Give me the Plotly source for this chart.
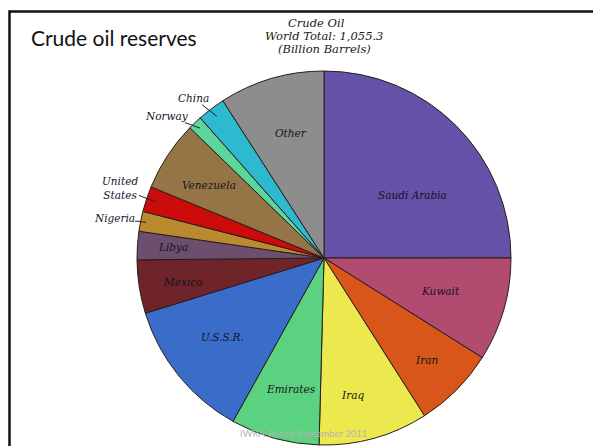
import math
import plotly.graph_objects as go

# ---- data (billion barrels) ----
countries = ["Saudi Arabia", "Kuwait", "Iran", "Iraq", "Emirates", "U.S.S.R.",
             "Mexico", "Libya", "Nigeria", "United States", "Venezuela",
             "Norway", "China", "Other"]
reserves = [263.8, 94.4, 74.2, 99.7, 80.9, 128.1, 48.7, 25.8, 18.2, 23.2,
            63.9, 12.9, 25.5, 96.0]
label_text = ["Saudi Arabia", "Kuwait", "Iran", "Iraq", "Emirates", "U.S.S.R.",
              "Mexico", "Libya", "Nigeria", "United<br>States", "Venezuela",
              "Norway", "China", "Other"]
title_text = "Crude oil reserves"
subtitle_lines = ["Crude Oil", "World Total: 1,055.3", "(Billion Barrels)"]
footer_text = "IWRA-Recife-September 2011"

# ---- styles ----
colors = ["#6352A8", "#B14B6F", "#D9561A", "#ECE94F", "#5AD27F", "#3A6CC9",
          "#6E2428", "#6C4F6F", "#B98A30", "#CC0B0B", "#957546", "#5DD69B",
          "#2DB9D0", "#8D8D8D"]
# per label: (radius fraction, angle offset deg, outside?, text dx px, text dy px)
label_style = {
    "Saudi Arabia": (0.58, 9.4, False, 0, 0),
    "Kuwait": (0.65, -0.3, False, 0, 0),
    "Iran": (0.77, 0, False, 0, 0),
    "Iraq": (0.75, 3.9, False, 0, 0),
    "Emirates": (0.72, -1.1, False, 0, 0),
    "U.S.S.R.": (0.69, 1.0, False, 0, 0),
    "Mexico": (0.765, -0.8, False, 0, 0),
    "Libya": (0.81, 0.4, False, 0, 0),
    "Venezuela": (0.73, -1.0, False, 0, 0),
    "Other": (0.69, 1.6, False, 0, 0),
    "China": (0.95, 0, True, -23, -18),
    "Norway": (0.96, 0, True, -33, -12),
    "United States": (0.95, 0, True, -35, -14),
    "Nigeria": (0.97, 0, True, -32, -4),
}

W, H = 593, 446
CX, CY, R = 324, 258, 187

fig = go.Figure(go.Pie(
    labels=countries, values=reserves, sort=False, direction="clockwise",
    rotation=0, textinfo="none", hoverinfo="label+value",
    marker=dict(colors=colors, line=dict(color="#2a1c1c", width=1)),
    domain=dict(x=[(CX - R) / W, (CX + R) / W],
                y=[1 - (CY + R) / H, 1 - (CY - R) / H]),
    showlegend=False,
))

total = sum(reserves)
cum = 0.0
annotations = []
lab_font = dict(family="DejaVu Serif", size=10.5, color="#15131f", style="italic")
for name, lab, v in zip(countries, label_text, reserves):
    mid = 270 + 360 * (cum + v / 2) / total
    cum += v
    frac, off, outside, tdx, tdy = label_style[name]
    a = math.radians(mid + off)
    px = CX + R * frac * math.cos(a)
    py = CY + R * frac * math.sin(a)
    if outside:
        annotations.append(dict(
            x=px / W, y=1 - py / H, xref="paper", yref="paper", text=lab,
            showarrow=True, arrowhead=0, arrowwidth=1, arrowcolor="#222",
            ax=tdx, ay=tdy, standoff=0, font=lab_font, borderpad=0,
            align="center"))
    else:
        annotations.append(dict(
            x=px / W, y=1 - py / H, xref="paper", yref="paper", text=lab,
            showarrow=False, font=lab_font, xanchor="center", yanchor="middle"))

annotations.append(dict(
    x=29 / W, y=1 - 37 / H, xref="paper", yref="paper", text=title_text,
    showarrow=False, xanchor="left", yanchor="middle",
    font=dict(family="Lato", size=21, color="#111")))
for i, (line, ypx) in enumerate(zip(subtitle_lines, [23.5, 36, 48.5])):
    annotations.append(dict(
        x=(316 if i == 0 else 324) / W, y=1 - ypx / H, xref="paper", yref="paper",
        text=line, showarrow=False, xanchor="center", yanchor="middle",
        font=dict(family="DejaVu Serif", size=11.5, color="#1a1a1a",
                  style="italic")))
annotations.append(dict(
    x=303 / W, y=1 - 433 / H, xref="paper", yref="paper", text=footer_text,
    showarrow=False, xanchor="center", yanchor="middle",
    font=dict(family="Lato", size=9.5, color="#b4b4b4")))

shapes = [
    dict(type="line", xref="paper", yref="paper", x0=9.5 / W, x1=1.02,
         y0=1 - 11.5 / H, y1=1 - 11.5 / H, line=dict(color="#111", width=2.5)),
    dict(type="line", xref="paper", yref="paper", x0=9.5 / W, x1=9.5 / W,
         y0=1 - 10.3 / H, y1=-0.02, line=dict(color="#111", width=2.5)),
]

fig.update_layout(
    width=W, height=H, margin=dict(l=0, r=0, t=0, b=0),
    paper_bgcolor="white", plot_bgcolor="white",
    annotations=annotations, shapes=shapes,
)
fig.write_html("out.html")
